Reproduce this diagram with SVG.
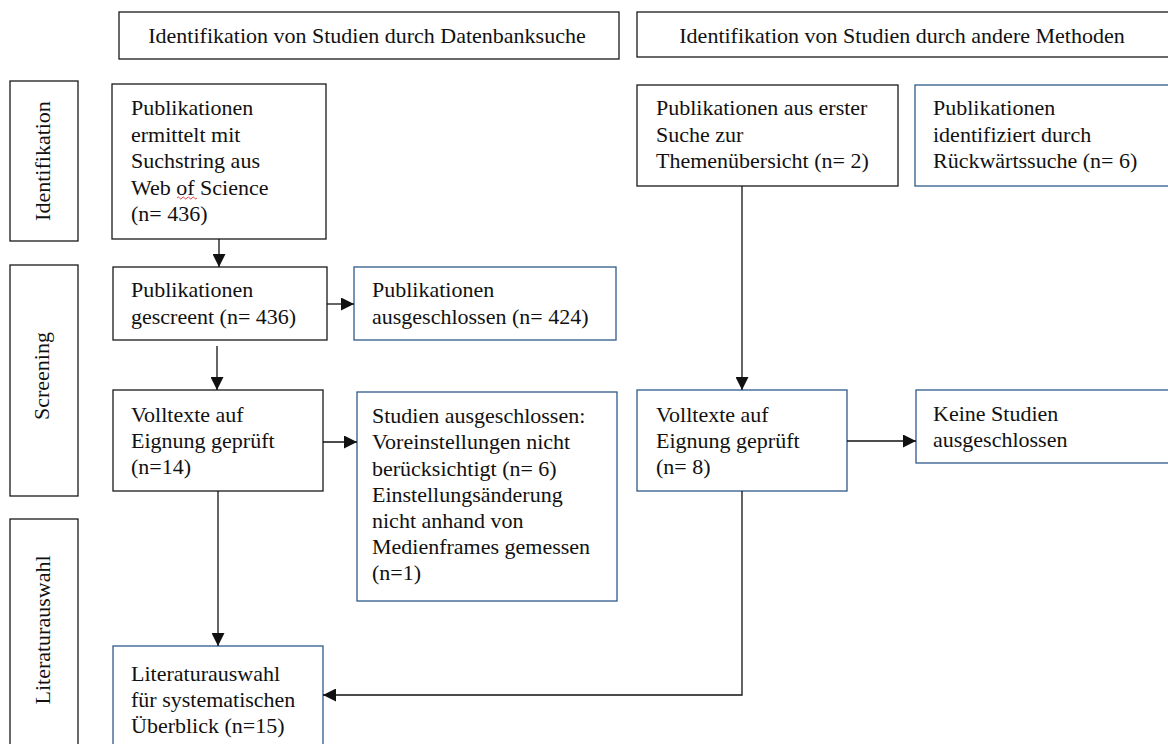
<svg xmlns="http://www.w3.org/2000/svg" width="1168" height="744" viewBox="0 0 1168 744">
<style>
  .bk { fill: #ffffff; stroke: #1a1a1a; stroke-width: 1.3; }
  .bl { fill: #ffffff; stroke: #2f5a8a; stroke-width: 1.3; }
  text { font-family: "Liberation Serif", "Times New Roman", serif; font-size: 22px; fill: #111111; }
  .c { text-anchor: middle; }
  .conn { fill: none; stroke: #111111; stroke-width: 1.3; }
</style>
<defs>
  <marker id="ah" markerUnits="userSpaceOnUse" markerWidth="13" markerHeight="13" refX="13" refY="6.5" orient="auto">
    <path d="M0,0 L13,6.5 L0,13 z" fill="#111111"/>
  </marker>
</defs>
<rect width="1168" height="744" fill="#ffffff"/>

<g id="header-db">
  <rect class="bk" x="119" y="12" width="500" height="47"/>
  <text class="c" x="367" y="43">Identifikation von Studien durch Datenbanksuche</text>
</g>
<g id="header-other">
  <rect class="bk" x="637" y="12" width="540" height="45"/>
  <text class="c" x="902" y="43">Identifikation von Studien durch andere Methoden</text>
</g>

<g id="phase-identifikation">
  <rect class="bk" x="10" y="81" width="68" height="160"/>
  <text class="c" transform="translate(50,161) rotate(-90)">Identifikation</text>
</g>
<g id="phase-screening">
  <rect class="bk" x="10" y="265" width="68" height="231"/>
  <text class="c" transform="translate(49,376) rotate(-90)">Screening</text>
</g>
<g id="phase-literaturauswahl">
  <rect class="bk" x="10" y="519" width="68" height="240"/>
  <text class="c" transform="translate(50,630) rotate(-90)">Literaturauswahl</text>
</g>

<g id="n-wos">
  <rect class="bk" x="112" y="84" width="214" height="155"/>
  <text x="131" y="115">Publikationen</text>
  <text x="131" y="142">ermittelt mit</text>
  <text x="131" y="168">Suchstring aus</text>
  <text x="131" y="195">Web of Science</text>
  <text x="131" y="221">(n= 436)</text>
  <path d="M177,198 q1.25,-2 2.5,0 t2.5,0 t2.5,0 t2.5,0 t2.5,0 t2.5,0 t2.5,0 t2.5,0" fill="none" stroke="#e03030" stroke-width="0.9"/>
</g>
<g id="n-gescreent">
  <rect class="bk" x="113" y="267" width="214" height="73"/>
  <text x="131" y="297">Publikationen</text>
  <text x="131" y="324">gescreent (n= 436)</text>
</g>
<g id="n-ausgeschlossen1">
  <rect class="bl" x="354" y="267" width="262" height="73"/>
  <text x="372" y="297">Publikationen</text>
  <text x="372" y="324">ausgeschlossen (n= 424)</text>
</g>
<g id="n-volltexte1">
  <rect class="bk" x="113" y="390" width="210" height="101"/>
  <text x="131" y="422">Volltexte auf</text>
  <text x="131" y="448">Eignung geprüft</text>
  <text x="131" y="474">(n=14)</text>
</g>
<g id="n-ausgeschlossen2">
  <rect class="bl" x="357" y="392" width="260" height="209"/>
  <text x="372" y="423">Studien ausgeschlossen:</text>
  <text x="372" y="449">Voreinstellungen nicht</text>
  <text x="372" y="476">berücksichtigt (n= 6)</text>
  <text x="372" y="502">Einstellungsänderung</text>
  <text x="372" y="528">nicht anhand von</text>
  <text x="372" y="554">Medienframes gemessen</text>
  <text x="372" y="580">(n=1)</text>
</g>
<g id="n-literaturauswahl">
  <rect class="bl" x="113" y="646" width="210" height="120"/>
  <text x="131" y="681">Literaturauswahl</text>
  <text x="131" y="707">für systematischen</text>
  <text x="131" y="733">Überblick (n=15)</text>
</g>

<g id="n-themen">
  <rect class="bk" x="637" y="85" width="261" height="101"/>
  <text x="656" y="115">Publikationen aus erster</text>
  <text x="656" y="142">Suche zur</text>
  <text x="656" y="168">Themenübersicht (n= 2)</text>
</g>
<g id="n-rueckwaerts">
  <rect class="bl" x="915" y="85" width="270" height="101"/>
  <text x="933" y="115">Publikationen</text>
  <text x="933" y="142">identifiziert durch</text>
  <text x="933" y="168">Rückwärtssuche (n= 6)</text>
</g>
<g id="n-volltexte2">
  <rect class="bl" x="637" y="390" width="210" height="101"/>
  <text x="656" y="422">Volltexte auf</text>
  <text x="656" y="448">Eignung geprüft</text>
  <text x="656" y="474">(n= 8)</text>
</g>
<g id="n-keine">
  <rect class="bl" x="916" y="390" width="270" height="73"/>
  <text x="933" y="421">Keine Studien</text>
  <text x="933" y="447">ausgeschlossen</text>
</g>

<g id="connectors">
  <path class="conn" d="M219,239 L219,267" marker-end="url(#ah)"/>
  <path class="conn" d="M327,304 L354,304" marker-end="url(#ah)"/>
  <path class="conn" d="M217,346 L217,390" marker-end="url(#ah)"/>
  <path class="conn" d="M323,442 L357,442" marker-end="url(#ah)"/>
  <path class="conn" d="M218,491 L218,646" marker-end="url(#ah)"/>
  <path class="conn" d="M742,186 L742,390" marker-end="url(#ah)"/>
  <path class="conn" d="M847,441 L916,441" marker-end="url(#ah)"/>
  <path class="conn" d="M742,491 L742,695 L323,695" marker-end="url(#ah)"/>
</g>
</svg>
